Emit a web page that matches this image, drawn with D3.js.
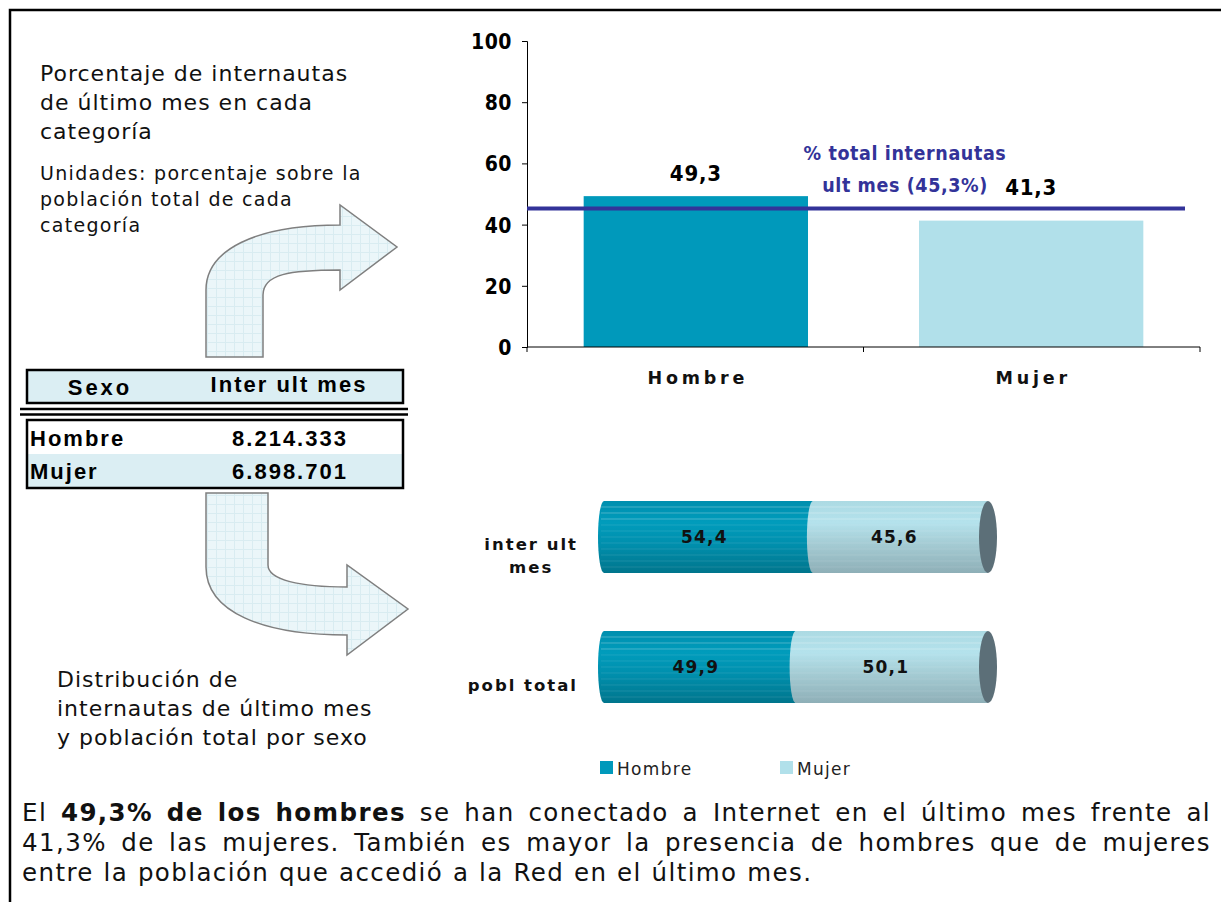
<!DOCTYPE html>
<html>
<head>
<meta charset="utf-8">
<script src="https://cdn.jsdelivr.net/npm/d3@7"></script>
<style>
  body { margin: 0; background: #fff; }
  svg { display: block; }
</style>
</head>
<body>
<div id="chart"></div>
<script>
// data
var topCats = ["Hombre", "Mujer"];
var topVals = [49.3, 41.3];
var totalPct = 45.3;
var yTicks = [0, 20, 40, 60, 80, 100];
var tableHead = ["Sexo", "Inter ult mes"];
var tableSexo = ["Hombre", "Mujer"];
var tableInter = ["8.214.333", "6.898.701"];
var stackCats = ["inter ult mes", "pobl total"];
var stackLabels = [["inter ult", "mes"], ["pobl total"]];
var hombreShare = [54.4, 49.9];
var mujerShare = [45.6, 50.1];
var seriesNames = ["Hombre", "Mujer"];

var VERDANA = "'DejaVu Sans', Verdana, sans-serif";
var NARROW = "'Liberation Sans Narrow', 'DejaVu Sans Condensed', 'Arial Narrow', sans-serif";
var ARIAL = "'Liberation Sans', Arial, sans-serif";
var DARK = "#0099bb", LIGHT = "#b1e0ea", REF = "#333399";

var width = 1221, height = 902;
var svg = d3.select("#chart").append("svg")
    .attr("width", width).attr("height", height);

var defs = svg.append("defs");

// frame (only top and left edges show)
svg.append("path").attr("d", "M10,902 L10,10 L1221,10")
    .attr("fill", "none").attr("stroke", "#000").attr("stroke-width", 2.5);

// ---------- left notes ----------
function multiline(lines, x, y0, lh, size, ls) {
    var t = svg.append("text").attr("font-family", VERDANA).attr("font-size", size)
        .attr("letter-spacing", ls).attr("fill", "#111");
    lines.forEach(function(l, i) {
        t.append("tspan").attr("x", x).attr("y", y0 + i * lh).text(l);
    });
    return t;
}
multiline(["Porcentaje de internautas", "de último mes en cada", "categoría"], 40, 81, 29, 22, 1);
multiline(["Unidades: porcentaje sobre la", "población total de cada", "categoría"], 40, 180, 26, 19, 1.3);
multiline(["Distribución de", "internautas de último mes", "y población total por sexo"], 57, 687, 29, 22, 1);

// ---------- arrows ----------
var pat = defs.append("pattern").attr("id", "grid").attr("patternUnits", "userSpaceOnUse")
    .attr("width", 9).attr("height", 9);
pat.append("rect").attr("width", 9).attr("height", 9).attr("fill", "#ebf6f9");
pat.append("path").attr("d", "M0,0.5 L9,0.5 M0.5,0 L0.5,9").attr("stroke", "#d9ecf1").attr("stroke-width", 1);

svg.append("path")
    .attr("d", "M206,357 L206,290 C206,250 255,225 340,225 L340,205 L397,247 L340,290 L340,270 C290,270 263,274 263,295 L263,357 Z")
    .attr("fill", "url(#grid)").attr("stroke", "#7f7f7f").attr("stroke-width", 1.5);
svg.append("path")
    .attr("d", "M206,493 L268,493 L268,565 C268,580 300,587 347,587 L347,565 L408,609 L347,655 L347,635 C262,635 206,612 206,567 Z")
    .attr("fill", "url(#grid)").attr("stroke", "#7f7f7f").attr("stroke-width", 1.5);

// ---------- table ----------
var tbl = svg.append("g");
tbl.append("rect").attr("x", 27).attr("y", 370).attr("width", 376).attr("height", 33)
    .attr("fill", "#dbeef3").attr("stroke", "#000").attr("stroke-width", 2.5);
tbl.append("text").attr("x", 100).attr("y", 395).attr("text-anchor", "middle")
    .attr("font-family", ARIAL).attr("font-weight", "bold").attr("font-size", 22).attr("letter-spacing", 3)
    .text(tableHead[0]);
tbl.append("text").attr("x", 289).attr("y", 392).attr("text-anchor", "middle")
    .attr("font-family", ARIAL).attr("font-weight", "bold").attr("font-size", 22).attr("letter-spacing", 2)
    .text(tableHead[1]);
tbl.append("path").attr("d", "M20,409 L408,409 M20,414.5 L408,414.5")
    .attr("stroke", "#000").attr("stroke-width", 2.5);

var rowY = d3.scaleBand().domain(tableSexo).range([421, 487]);
tbl.selectAll(".row").data(tableSexo).enter().append("rect")
    .attr("x", 28).attr("y", function(d) { return rowY(d); })
    .attr("width", 374).attr("height", rowY.bandwidth())
    .attr("fill", function(d, i) { return i % 2 ? "#dbeef3" : "#fff"; });
tbl.append("rect").attr("x", 27).attr("y", 420).attr("width", 376).attr("height", 68)
    .attr("fill", "none").attr("stroke", "#000").attr("stroke-width", 2.5);
tbl.selectAll(".sx").data(tableSexo).enter().append("text")
    .attr("x", 30).attr("y", function(d) { return rowY(d) + rowY.bandwidth() / 2 + 8; })
    .attr("font-family", ARIAL).attr("font-weight", "bold").attr("font-size", 22).attr("letter-spacing", 2)
    .text(function(d) { return d; });
tbl.selectAll(".iv").data(tableInter).enter().append("text")
    .attr("x", 290).attr("y", function(d, i) { return rowY(tableSexo[i]) + rowY.bandwidth() / 2 + 8; })
    .attr("text-anchor", "middle")
    .attr("font-family", ARIAL).attr("font-weight", "bold").attr("font-size", 22).attr("letter-spacing", 2)
    .text(function(d) { return d; });

// ---------- top bar chart ----------
var y = d3.scaleLinear().domain([0, 100]).range([347, 41]);
var x = d3.scaleBand().domain(topCats).range([527, 1200]).paddingInner(0.331).paddingOuter(0.169);
var topG = svg.append("g");

topG.selectAll(".bar").data(topVals).enter().append("rect")
    .attr("x", function(d, i) { return x(topCats[i]); })
    .attr("y", function(d) { return y(d); })
    .attr("width", x.bandwidth())
    .attr("height", function(d) { return y(0) - y(d); })
    .attr("fill", function(d, i) { return i === 0 ? DARK : LIGHT; });

var yAxis = topG.append("g").attr("transform", "translate(527,0)")
    .call(d3.axisLeft(y).tickValues(yTicks).tickSize(5).tickPadding(10).tickFormat(d3.format("d")));
yAxis.select(".domain").attr("stroke", "#000");
yAxis.selectAll("text").attr("font-family", NARROW).attr("font-weight", "bold")
    .attr("font-size", 21).attr("letter-spacing", 0.5).attr("fill", "#000").attr("dy", "0.36em");

// category axis: line with ticks on band boundaries
var xAxis = topG.append("g");
xAxis.append("line").attr("x1", 527).attr("x2", 1200).attr("y1", y(0)).attr("y2", y(0)).attr("stroke", "#000");
var bounds = topCats.map(function(c) { return x(c) - x.step() * x.paddingInner() / 2; });
bounds.push(1200);
bounds[0] = 527;
xAxis.selectAll(".tk").data(bounds).enter().append("line")
    .attr("x1", function(d) { return d; }).attr("x2", function(d) { return d; })
    .attr("y1", y(0)).attr("y2", y(0) + 5).attr("stroke", "#000");
xAxis.selectAll(".cl").data(topCats).enter().append("text")
    .attr("x", function(d) { return x(d) + x.bandwidth() / 2 + 2; })
    .attr("y", 384).attr("text-anchor", "middle")
    .attr("font-family", VERDANA).attr("font-weight", "bold").attr("font-size", 17.5)
    .attr("letter-spacing", 3.8).attr("fill", "#111")
    .text(function(d) { return d; });

// total reference line
topG.append("line").attr("x1", 527).attr("x2", 1185)
    .attr("y1", y(totalPct)).attr("y2", y(totalPct))
    .attr("stroke", REF).attr("stroke-width", 4);
var refLab = topG.append("text").attr("text-anchor", "middle").attr("fill", REF)
    .attr("font-family", NARROW).attr("font-weight", "bold").attr("font-size", 19.5).attr("letter-spacing", 0.6);
refLab.append("tspan").attr("x", 905).attr("y", 160).text("% total  internautas");
refLab.append("tspan").attr("x", 905).attr("y", 192).text("ult mes (" + d3.format(".1f")(totalPct).replace(".", ",") + "%)");

// value labels sit above the bar, lifted clear of the reference line
topG.selectAll(".val").data(topVals).enter().append("text")
    .attr("x", function(d, i) { return x(topCats[i]) + x.bandwidth() / 2; })
    .attr("y", function(d) { return Math.min(y(d) - 15, y(totalPct) - 13); })
    .attr("text-anchor", "middle")
    .attr("font-family", NARROW).attr("font-weight", "bold").attr("font-size", 22).attr("letter-spacing", 0.8)
    .attr("fill", "#000")
    .text(function(d) { return d3.format(".1f")(d).replace(".", ","); });

// ---------- cylinder stacked bars ----------
function grad(id, stops) {
    var g = defs.append("linearGradient").attr("id", id).attr("x1", 0).attr("x2", 0).attr("y1", 0).attr("y2", 1);
    stops.forEach(function(s) { g.append("stop").attr("offset", s[0]).attr("stop-color", s[1]); });
}
grad("gH", [[0, "#008fae"], [0.3, "#009cbc"], [0.6, "#008fad"], [1, "#00758c"]]);
grad("gM", [[0, "#acdae3"], [0.3, "#b4e2ec"], [0.6, "#a4cbd3"], [1, "#8eafb7"]]);

var xs = d3.scaleLinear().domain([0, 100]).range([604, 988]);
var ys = d3.scaleBand().domain(stackCats).range([462, 742]).paddingInner(0.446).paddingOuter(0.3);
var stackData = stackCats.map(function(c, i) { return { cat: c, Hombre: hombreShare[i], Mujer: mujerShare[i] }; });
var stack = d3.stack().keys(seriesNames)(stackData);
var fills = { Hombre: "url(#gH)", Mujer: "url(#gM)" };
var rx = 6;
var cyl = svg.append("g");

stack.forEach(function(layer) {
    cyl.selectAll(".seg-" + layer.key).data(layer).enter().append("path")
        .attr("fill", fills[layer.key])
        .attr("d", function(d) {
            var x0 = xs(d[0]), x1 = xs(d[1]);
            var t = ys(d.data.cat), b = t + ys.bandwidth(), ry = ys.bandwidth() / 2;
            return "M" + x0 + "," + t + " L" + x1 + "," + t + " L" + x1 + "," + b +
                " L" + x0 + "," + b + " A" + rx + "," + ry + " 0 0 1 " + x0 + "," + t + " Z";
        });
});
// faint horizontal stripes
stackCats.forEach(function(c) {
    var t = ys(c), h = ys.bandwidth();
    d3.range(1, 12).forEach(function(k) {
        var yy = t + k * h / 12;
        cyl.append("line").attr("x1", xs(0) - 3).attr("x2", xs(100)).attr("y1", yy).attr("y2", yy)
            .attr("stroke", "#fff").attr("stroke-opacity", k < 4 ? 0.28 : 0.1).attr("stroke-width", 1);
    });
});
// end caps
cyl.selectAll(".cap").data(stackCats).enter().append("ellipse")
    .attr("cx", xs(100)).attr("cy", function(d) { return ys(d) + ys.bandwidth() / 2; })
    .attr("rx", 9).attr("ry", ys.bandwidth() / 2)
    .attr("fill", "#5c6f78");

// values inside
stack.forEach(function(layer) {
    cyl.selectAll(".lab-" + layer.key).data(layer).enter().append("text")
        .attr("x", function(d) { return (xs(d[0]) + xs(d[1])) / 2 - (layer.key === "Mujer" ? 6 : 4); })
        .attr("y", function(d) { return ys(d.data.cat) + ys.bandwidth() / 2 + 6; })
        .attr("text-anchor", "middle")
        .attr("font-family", VERDANA).attr("font-weight", "bold").attr("font-size", 17).attr("letter-spacing", 1.2)
        .attr("fill", "#111")
        .text(function(d) { return d3.format(".1f")(d[1] - d[0]).replace(".", ","); });
});

// category labels (wrapped, centred block that ends at the bar)
stackCats.forEach(function(c, i) {
    var lines = stackLabels[i];
    var t = svg.append("text").attr("font-family", VERDANA).attr("font-weight", "bold")
        .attr("font-size", 16.5).attr("letter-spacing", 2).attr("fill", "#111").attr("text-anchor", "middle");
    var cy = ys(c) + ys.bandwidth() / 2 + 18;
    var lh = 23;
    var y0 = cy - (lines.length - 1) * lh / 2 + 6;
    lines.forEach(function(l, j) {
        t.append("tspan").attr("y", y0 + j * lh).text(l);
    });
    var w = 0;
    t.selectAll("tspan").each(function() { w = Math.max(w, this.getComputedTextLength()); });
    t.selectAll("tspan").attr("x", 578 - w / 2);
});

// legend
var leg = svg.append("g").selectAll("g").data(seriesNames).enter().append("g")
    .attr("transform", function(d, i) { return "translate(" + (600 + i * 180) + ",761)"; });
leg.append("rect").attr("width", 13).attr("height", 13)
    .attr("fill", function(d, i) { return i === 0 ? DARK : LIGHT; });
leg.append("text").attr("x", 17).attr("y", 13.5)
    .attr("font-family", VERDANA).attr("font-size", 17).attr("letter-spacing", 1.3).attr("fill", "#222")
    .text(function(d) { return d; });

// ---------- bottom paragraph (justified) ----------
var para = [
    [["El ", false], ["49,3% de los hombres", true], [" se han conectado a Internet en el último mes frente al", false]],
    [["41,3% de las mujeres. También es mayor la presencia de hombres que de mujeres", false]],
    [["entre la población que accedió a la Red en el último mes.", false]]
];
var pLeft = 22, pRight = 1211, pSize = 24.5, pLs = 1.4;
para.forEach(function(line, li) {
    var words = [];
    line.forEach(function(seg) {
        seg[0].split(" ").filter(function(w) { return w.length; }).forEach(function(w) {
            words.push({ w: w, b: seg[1] });
        });
    });
    var g = svg.append("g");
    var yy = 821 + li * 30;
    var nodes = words.map(function(o) {
        return g.append("text").attr("y", yy).attr("font-family", VERDANA).attr("font-size", pSize)
            .attr("letter-spacing", pLs)
            .attr("font-weight", o.b ? "bold" : "normal").attr("fill", "#111").text(o.w);
    });
    var widths = nodes.map(function(n) { return n.node().getComputedTextLength(); });
    var total = d3.sum(widths);
    var justify = li < para.length - 1;
    var gap = justify ? (pRight - pLeft - total) / (words.length - 1) : pSize * 0.34 + pLs;
    var xx = pLeft;
    nodes.forEach(function(n, i) { n.attr("x", xx); xx += widths[i] + gap; });
});
</script>
</body>
</html>
